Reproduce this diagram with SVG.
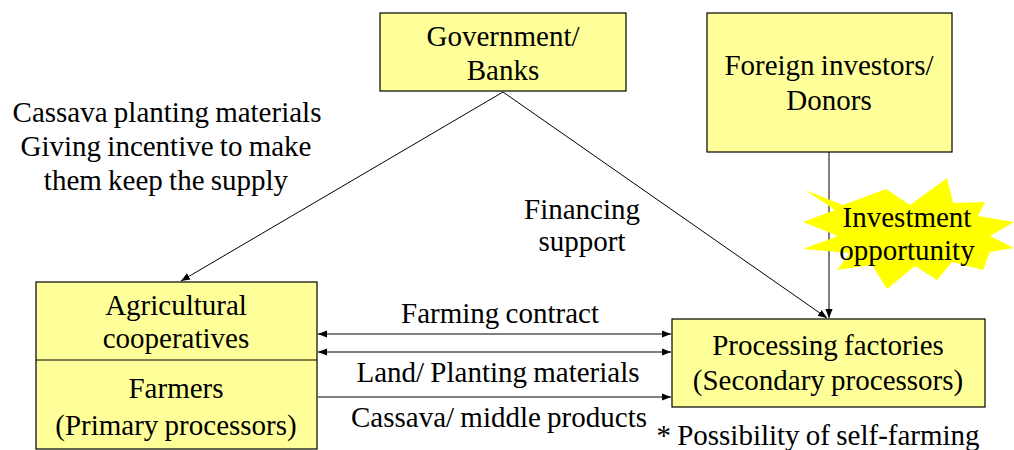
<svg xmlns="http://www.w3.org/2000/svg" width="1014" height="450" viewBox="0 0 1014 450">
<defs>
<marker id="ah" viewBox="0 0 10 10" refX="10" refY="5" markerWidth="9" markerHeight="9" markerUnits="userSpaceOnUse" orient="auto-start-reverse">
<path d="M0,1 L10,5 L0,9 Z" fill="#000"/>
</marker>
</defs>
<style>
.box{fill:#FFFF99;stroke:#000;stroke-width:1.2}
.t{font-family:"Liberation Serif","Times New Roman",serif;font-size:29px;fill:#000;text-anchor:middle;word-spacing:-1px}
.ln{stroke:#000;stroke-width:1;fill:none}
</style>
<rect width="1014" height="450" fill="#fff"/>
<g id="connectors">
<line class="ln" x1="503" y1="92" x2="181" y2="281" marker-end="url(#ah)"/>
<line class="ln" x1="503" y1="92" x2="827" y2="318" marker-end="url(#ah)"/>
<line class="ln" x1="829" y1="152" x2="829" y2="318" marker-end="url(#ah)"/>
<line class="ln" x1="318" y1="334" x2="671" y2="334" marker-start="url(#ah)" marker-end="url(#ah)"/>
<line class="ln" x1="318" y1="352" x2="671" y2="352" marker-start="url(#ah)" marker-end="url(#ah)"/>
<line class="ln" x1="318" y1="397" x2="671" y2="397" marker-end="url(#ah)"/>
</g>
<g id="gov">
<rect class="box" x="380" y="13" width="246" height="78"/>
<text class="t" x="503" y="46">Government/</text>
<text class="t" x="503" y="80">Banks</text>
</g>
<g id="foreign">
<rect class="box" x="707" y="13" width="245" height="139"/>
<text class="t" x="829" y="75">Foreign investors/</text>
<text class="t" x="829" y="110">Donors</text>
</g>
<g id="coop">
<rect class="box" x="36" y="282" width="281" height="167"/>
<line class="ln" x1="36" y1="360" x2="317" y2="360"/>
<text class="t" x="176" y="315">Agricultural</text>
<text class="t" x="176" y="348">cooperatives</text>
<text class="t" x="176" y="398">Farmers</text>
<text class="t" x="176" y="435">(Primary processors)</text>
</g>
<g id="factories">
<rect class="box" x="672" y="319" width="313" height="88"/>
<text class="t" x="828" y="355">Processing factories</text>
<text class="t" x="828" y="390">(Secondary processors)</text>
</g>
<g id="star">
<polygon fill="#FFFF00" points="805,190 843,205 886,189 910,205 947,178 953,203 985,202 978,216 1014,222 990,236 1014,248 990,252 983,270 952,262 937,280 915,266 887,289 872,265 837,270 850,253 803,249 838,236 803,222 835,210"/>
<text class="t" x="907" y="227">Investment</text>
<text class="t" x="907" y="260">opportunity</text>
</g>
<g id="labels">
<text class="t" x="167" y="122">Cassava planting materials</text>
<text class="t" x="166" y="156">Giving incentive to make</text>
<text class="t" x="166" y="190">them keep the supply</text>
<text class="t" x="582" y="219">Financing</text>
<text class="t" x="582" y="251">support</text>
<text class="t" x="500" y="323">Farming contract</text>
<text class="t" x="498" y="382">Land/ Planting materials</text>
<text class="t" x="499" y="427">Cassava/ middle products</text>
<text class="t" x="818" y="445">* Possibility of self-farming</text>
</g>
</svg>
